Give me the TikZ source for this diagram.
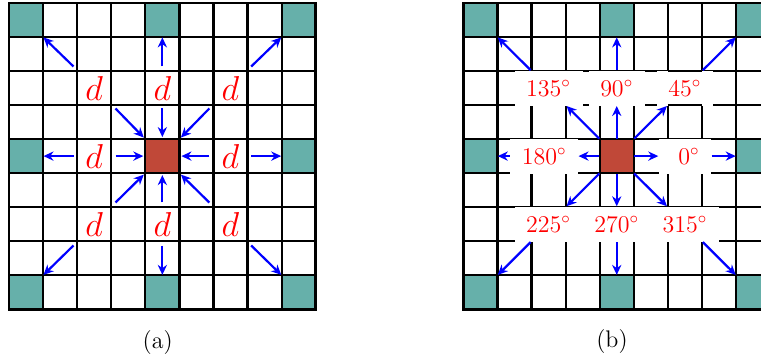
\documentclass[tikz,border=0pt]{standalone}
\usetikzlibrary{arrows.meta}
\definecolor{tealc}{RGB}{102,176,170}
\definecolor{redc}{RGB}{192,72,56}
\tikzset{
 cellbox/.style={draw=none, inner sep=0pt, minimum width=17.05pt, minimum height=17.015pt},
 tealcell/.style={cellbox, fill=tealc},
 redcell/.style={cellbox, fill=redc},
 gridline/.style={line width=1.1pt, black},
 outerline/.style={line width=1.3pt, black},
 arr/.style={blue, line width=1.1pt, -{Stealth[length=5pt,width=4.6pt]}},
 dlab/.style={text=red, font=\fontsize{16}{19}\selectfont},
 anglab/.style={text=red, fill=white, font=\fontsize{11.5}{14}\selectfont, inner xsep=5.8pt, inner ysep=0pt, minimum height=17.5pt},
 caplab/.style={font=\fontsize{12}{14}\selectfont},
}
\begin{document}
\begin{tikzpicture}[x=0.5pt,y=-0.5pt]
\useasboundingbox (0,0) rectangle (761,358);
\clip (0,0) rectangle (761,358);
% ---------------- panel (a) ----------------
\node[tealcell] (a00) at (26.04,20.0) {};
\node[tealcell] (a40) at (162.36,20.0) {};
\node[tealcell] (a80) at (298.68,20.0) {};
\node[tealcell] (a04) at (26.04,156.1) {};
\node[tealcell] (a84) at (298.68,156.1) {};
\node[tealcell] (a08) at (26.04,292.3) {};
\node[tealcell] (a48) at (162.36,292.3) {};
\node[tealcell] (a88) at (298.68,292.3) {};
\node[redcell] (ar) at (162.36,156.1) {};
\foreach \i in {1,...,8}{
  \draw[gridline] ({9+34.08*\i},3) -- ({9+34.08*\i},309.3);
  \draw[gridline] (9,{3+34.03*\i}) -- (315.7,{3+34.03*\i});
}
\draw[outerline] (9,3) rectangle (315.7,309.3);
% d labels
\node[dlab] (d1) at (94.2,88.1) {$d$};
\node[dlab] (d2) at (162.36,88.1) {$d$};
\node[dlab] (d3) at (230.5,88.1) {$d$};
\node[dlab] (d4) at (94.2,156.1) {$d$};
\node[dlab] (d5) at (230.5,156.1) {$d$};
\node[dlab] (d6) at (94.2,224.2) {$d$};
\node[dlab] (d7) at (162.36,224.2) {$d$};
\node[dlab] (d8) at (230.5,224.2) {$d$};
% inward starts
\coordinate (iNW) at (115.5,108.5);
\coordinate (iN) at (162.36,108.5);
\coordinate (iNE) at (209.3,108.5);
\coordinate (iW) at (115.5,156.1);
\coordinate (iE) at (209.3,156.1);
\coordinate (iSW) at (115.5,202.5);
\coordinate (iS) at (162.36,202.5);
\coordinate (iSE) at (209.3,202.5);
\draw[arr, shorten >=0.8pt] (iNW) -- (ar.north west);
\draw[arr, shorten >=0.8pt] (iN) -- (ar.north);
\draw[arr, shorten >=0.8pt] (iNE) -- (ar.north east);
\draw[arr, shorten >=0.8pt] (iW) -- (ar.west);
\draw[arr, shorten >=0.8pt] (iE) -- (ar.east);
\draw[arr, shorten >=0.8pt] (iSW) -- (ar.south west);
\draw[arr, shorten >=0.8pt] (iS) -- (ar.south);
\draw[arr, shorten >=0.8pt] (iSE) -- (ar.south east);
% outward starts
\coordinate (oNW) at (73.5,66.5);
\coordinate (oN) at (162.36,66.5);
\coordinate (oNE) at (251.2,66.5);
\coordinate (oW) at (73.5,156.1);
\coordinate (oE) at (251.2,156.1);
\coordinate (oSW) at (73.5,245.5);
\coordinate (oS) at (162.36,245.5);
\coordinate (oSE) at (251.2,245.5);
\draw[arr] (oNW) -- (a00.south east);
\draw[arr] (oN) -- (a40.south);
\draw[arr] (oNE) -- (a80.south west);
\draw[arr] (oW) -- (a04.east);
\draw[arr] (oE) -- (a84.west);
\draw[arr] (oSW) -- (a08.north east);
\draw[arr] (oS) -- (a48.north);
\draw[arr] (oSE) -- (a88.north west);
\node[caplab] (capa) at (157.7,342.5) {(a)};
% ---------------- panel (b) ----------------
\node[tealcell] (b00) at (480.35,20.0) {};
\node[tealcell] (b40) at (616.75,20.0) {};
\node[tealcell] (b80) at (753.15,20.0) {};
\node[tealcell] (b04) at (480.35,156.1) {};
\node[tealcell] (b84) at (753.15,156.1) {};
\node[tealcell] (b08) at (480.35,292.3) {};
\node[tealcell] (b48) at (616.75,292.3) {};
\node[tealcell] (b88) at (753.15,292.3) {};
\node[redcell] (br) at (616.75,156.1) {};
\foreach \i in {1,...,8}{
  \draw[gridline] ({463.3+34.1*\i},3) -- ({463.3+34.1*\i},309.3);
  \draw[gridline] (463.3,{3+34.03*\i}) -- (770.2,{3+34.03*\i});
}
\draw[outerline] (463.3,3) rectangle (770.2,309.3);
% angle labels
\node[anglab] (L135) at (548.6,88.1) {$135^\circ$};
\node[anglab] (L90) at (616.75,88.1) {$90^\circ$};
\node[anglab] (L45) at (684.9,88.1) {$45^\circ$};
\node[anglab] (L180) at (544.2,156.1) {$180^\circ$};
\node[anglab] (L0) at (684.9,156.1) {\hspace*{4pt}$0^\circ$};
\node[anglab] (L225) at (548.6,224.2) {$225^\circ$};
\node[anglab] (L270) at (616.75,224.2) {$270^\circ$};
\node[anglab] (L315) at (684.9,224.2) {$315^\circ$};
% grid pieces lying over the 45 degree box
\draw[gridline] (667.9,71.06) -- (702,71.06);
\draw[gridline] (667.9,105.09) -- (702,105.09);
% arrows
\draw[arr] (br.north west) -- (L135);
\draw[arr] (L135) -- (b00.south east);
\draw[arr] (br.north) -- (L90);
\draw[arr] (L90) -- (b40.south);
\draw[arr] (br.north east) -- (L45);
\draw[arr] (L45) -- (b80.south west);
\draw[arr] (br.west) -- (L180);
\draw[arr] (L180) -- (b04.east);
\draw[arr] (br.east) -- (L0);
\draw[arr] (L0) -- (b84.west);
\draw[arr] (br.south west) -- (L225);
\draw[arr] (L225) -- (b08.north east);
\draw[arr] (br.south) -- (L270);
\draw[arr] (L270) -- (b48.north);
\draw[arr] (br.south east) -- (L315);
\draw[arr] (L315) -- (b88.north west);
\node[caplab] (capb) at (612,341.7) {(b)};
\end{tikzpicture}
\end{document}
